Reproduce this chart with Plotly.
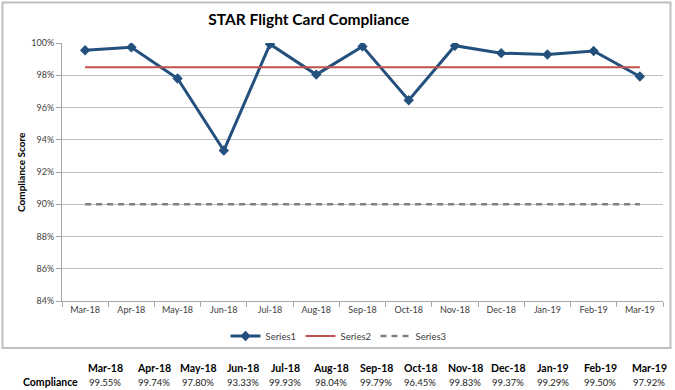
import plotly.graph_objects as go

months = ["Mar-18", "Apr-18", "May-18", "Jun-18", "Jul-18", "Aug-18", "Sep-18",
          "Oct-18", "Nov-18", "Dec-18", "Jan-19", "Feb-19", "Mar-19"]
series1 = [0.9955, 0.9974, 0.9780, 0.9333, 0.9993, 0.9804, 0.9979,
           0.9645, 0.9983, 0.9937, 0.9929, 0.9950, 0.9792]
series2 = [0.985] * 13
series3 = [0.90] * 13
table_label = "Compliance"
yticks = [0.84, 0.86, 0.88, 0.90, 0.92, 0.94, 0.96, 0.98, 1.00]

W, H = 675, 390
L, R, T, B = 62, 12, 43, 89
PW, PH = W - L - R, H - T - B
FONT = "Lato"

def px(x):
    return (x - L) / PW

def py(y):
    return (H - B - y) / PH

fig = go.Figure()
fig.add_trace(go.Scatter(x=months, y=series1, name="Series1", mode="lines+markers",
                         line=dict(color="#24507E", width=3),
                         marker=dict(symbol="diamond", size=8, color="#24507E")))
fig.add_trace(go.Scatter(x=months, y=series2, name="Series2", mode="lines",
                         line=dict(color="#C0504D", width=2)))
fig.add_trace(go.Scatter(x=months, y=series3, name="Series3", mode="lines",
                         line=dict(color="#808080", width=2.5, dash="6px,5px")))

annotations = []
annotations.append(dict(text="<b>Compliance Score</b>", textangle=-90, x=px(21), y=py(172),
                        xref="paper", yref="paper", showarrow=False, xanchor="center", yanchor="middle",
                        font=dict(size=10, color="#000000", family=FONT)))
# table below chart
centers = [105, 154, 198, 243, 285, 331, 376, 420, 465, 508, 553, 600, 649]
for m, v, c in zip(months, series1, centers):
    annotations.append(dict(text="<b>%s</b>" % m, x=px(c), y=py(368), xref="paper", yref="paper",
                            xanchor="center", yanchor="middle", showarrow=False,
                            font=dict(size=10.5, color="#000000", family=FONT)))
    annotations.append(dict(text="%.2f%%" % (v * 100), x=px(c), y=py(382), xref="paper", yref="paper",
                            xanchor="center", yanchor="middle", showarrow=False,
                            font=dict(size=9.5, color="#222222", family=FONT)))
annotations.append(dict(text="<b>%s</b>" % table_label, x=px(21), y=py(382), xref="paper", yref="paper",
                        xanchor="left", yanchor="middle", showarrow=False,
                        font=dict(size=10.5, color="#000000", family=FONT)))

shapes = [dict(type="rect", xref="paper", yref="paper",
               x0=px(2.5), x1=px(670.5), y0=py(348), y1=py(2.5),
               line=dict(color="#BFBFBF", width=2), layer="below")]

fig.update_layout(
    width=W, height=H,
    margin=dict(l=L, r=R, t=T, b=B),
    paper_bgcolor="white", plot_bgcolor="white",
    title=dict(text="<b>STAR Flight Card Compliance</b>", x=px(337), xanchor="center",
               y=1 - 20 / H, yanchor="middle", font=dict(size=15.5, color="#000000", family=FONT)),
    font=dict(family=FONT, size=9, color="#404040"),
    xaxis=dict(type="category", range=[-0.5, 12.5], showgrid=False, showline=True,
               linecolor="#A6A6A6", linewidth=1, ticks="outside", tickson="boundaries",
               ticklen=5, tickcolor="#A6A6A6", tickfont=dict(size=9, color="#404040"),
               fixedrange=True),
    yaxis=dict(range=[0.84, 1.0], tickvals=yticks, tickformat=".0%", showgrid=True,
               gridcolor="#BFBFBF", gridwidth=1, showline=True, linecolor="#A6A6A6",
               ticks="outside", ticklen=5, tickcolor="#A6A6A6",
               tickfont=dict(size=9, color="#404040"), zeroline=False, fixedrange=True),
    legend=dict(orientation="h", x=px(338), xanchor="center", y=py(336), yanchor="middle",
                font=dict(size=9.5, color="#404040"), entrywidth=30, entrywidthmode="pixels",
                itemwidth=30, tracegroupgap=0, bgcolor="rgba(0,0,0,0)"),
    annotations=annotations,
    shapes=shapes,
)

fig.write_html("out.html", config={"displayModeBar": False},
               post_script="document.body.style.margin='0';document.body.style.overflow='hidden';")
